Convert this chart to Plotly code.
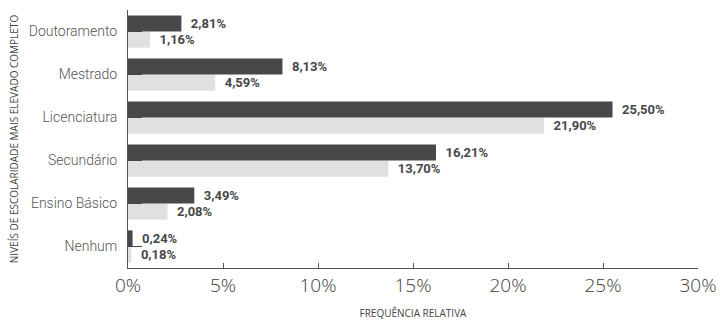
import plotly.graph_objects as go

categorias = ["Doutoramento", "Mestrado", "Licenciatura", "Secundário", "Ensino Básico", "Nenhum"]
serie_escura = [2.81, 8.13, 25.50, 16.21, 3.49, 0.24]
serie_clara = [1.16, 4.59, 21.90, 13.70, 2.08, 0.18]
ticks_x = [0, 5, 10, 15, 20, 25, 30]


def rotulo(v):
    # small leading gap between bar end and its label
    return "\u00a0\u00a0" + f"{v:.2f}".replace(".", ",") + "%"


fonte_rotulo = dict(family="Roboto", size=13, color="#474749", weight="bold")

fig = go.Figure()
fig.add_trace(go.Bar(
    y=categorias, x=serie_clara, orientation="h", name="clara",
    marker=dict(color="#e0e0e2", line=dict(width=0)),
    text=[rotulo(v) for v in serie_clara], textposition="outside",
    textfont=fonte_rotulo, cliponaxis=False,
))
fig.add_trace(go.Bar(
    y=categorias, x=serie_escura, orientation="h", name="escura",
    marker=dict(color="#48484a", line=dict(width=0)),
    text=[rotulo(v) for v in serie_escura], textposition="outside",
    textfont=fonte_rotulo, cliponaxis=False,
))

fig.update_layout(
    width=720, height=321,
    margin=dict(l=128, r=22, t=10, b=53),
    barmode="group", bargap=0.25, bargroupgap=0,
    showlegend=False,
    plot_bgcolor="white", paper_bgcolor="white",
    font=dict(family="Roboto", color="#555555"),
    xaxis=dict(
        range=[0, 30], tickvals=ticks_x, ticktext=[f"{t}%" for t in ticks_x],
        showgrid=False, zeroline=False, automargin=False,
        showline=True, linecolor="#555555", linewidth=1,
        ticks="inside", ticklen=5, tickcolor="#555555",
        ticklabeloverflow="allow",
        tickfont=dict(family="Open Sans", size=19, color="#3c3c3c", weight=300),
        title=dict(text="FREQUÊNCIA RELATIVA",
                   font=dict(family="Open Sans", size=10, color="#444444"),
                   standoff=13),
    ),
    yaxis=dict(
        categoryorder="array", categoryarray=categorias[::-1],
        showgrid=False, zeroline=False, automargin=False,
        showline=True, linecolor="#555555", linewidth=1,
        ticks="inside", ticklen=14, tickcolor="#444444",
        ticklabelstandoff=7,
        tickfont=dict(family="Roboto", size=14, color="#555555", weight=300),
        title=dict(text="NIVEÍS DE ESCOLARIDADE MAIS ELEVADO COMPLETO",
                   font=dict(family="Open Sans", size=10, color="#444444"),
                   standoff=8),
    ),
)

fig.write_html("out.html")
